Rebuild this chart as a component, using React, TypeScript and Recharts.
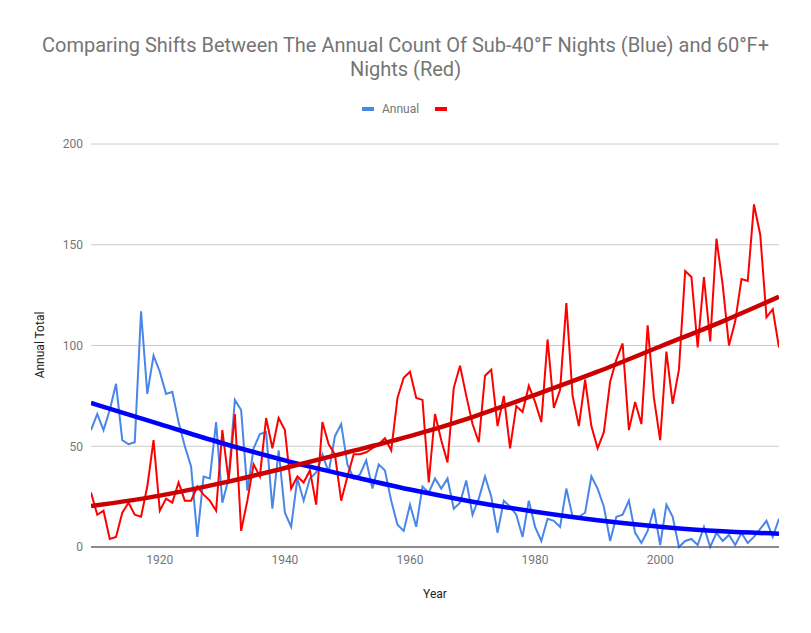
import React from 'react';
import { CartesianGrid, ComposedChart, Line, XAxis, YAxis } from 'recharts';

// annual counts, one value per year starting at FIRST_YEAR
const FIRST_YEAR = 1909;

const sub40Nights = [
  58, 66, 58, 68, 81, 53, 51, 52, 117, 76, // 1909-1918
  95, 87, 76, 77, 62, 50, 40, 5, 35, 34, // 1919-1928
  62, 22, 34, 73, 68, 28, 49, 56, 57, 19, // 1929-1938
  48, 17, 10, 34, 23, 34, 37, 46, 37, 55, // 1939-1948
  61, 41, 34, 36, 43, 29, 41, 38, 23, 11, // 1949-1958
  8, 21, 10, 30, 27, 34, 29, 34, 19, 22, // 1959-1968
  33, 16, 24, 35, 25, 7, 23, 20, 16, 5, // 1969-1978
  23, 10, 3, 14, 13, 10, 29, 15, 15, 17, // 1979-1988
  35, 29, 20, 3, 15, 16, 23, 7, 2, 8, // 1989-1998
  19, 1, 21, 15, 0, 3, 4, 1, 10, 0, // 1999-2008
  7, 3, 6, 1, 7, 2, 5, 9, 13, 5, // 2009-2018
  14, // 2019
];

const over60Nights = [
  27, 16, 18, 4, 5, 17, 22, 16, 15, 30, // 1909-1918
  53, 18, 24, 22, 32, 23, 23, 30, 26, 23, // 1919-1928
  18, 58, 33, 66, 8, 23, 41, 35, 64, 49, // 1929-1938
  64, 58, 29, 35, 32, 38, 21, 62, 51, 46, // 1939-1948
  23, 35, 46, 46, 47, 49, 51, 54, 48, 74, // 1949-1958
  84, 87, 74, 73, 32, 66, 53, 42, 79, 90, // 1959-1968
  75, 61, 52, 85, 88, 60, 75, 49, 70, 67, // 1969-1978
  80, 72, 62, 103, 69, 78, 121, 75, 60, 83, // 1979-1988
  60, 49, 57, 82, 93, 101, 58, 72, 61, 110, // 1989-1998
  74, 53, 97, 71, 88, 137, 134, 99, 134, 102, // 1999-2008
  153, 130, 100, 112, 133, 132, 170, 155, 114, 118, // 2009-2018
  99, // 2019
];

// trendline values
const trendYears = [1909, 1920, 1930, 1940, 1950, 1960, 1970, 1980, 1990, 2000, 2010, 2019];
const sub40Trend = [71.5, 61, 51.5, 43, 35.5, 28.5, 22.5, 17.5, 13.3, 10.1, 7.8, 6.6];
const over60Trend = [20.3, 25.5, 31.8, 39.2, 47, 55, 64.5, 75.5, 87, 99.5, 112, 124.2];

const xTicks = [1920, 1940, 1960, 1980, 2000];
const yTicks = [0, 50, 100, 150, 200];

const data = sub40Nights.map((v, i) => ({
  year: FIRST_YEAR + i,
  annual: v,
  warm: over60Nights[i],
}));

const trendData = trendYears.map((y, i) => ({
  year: y,
  coldTrend: sub40Trend[i],
  warmTrend: over60Trend[i],
}));

const gray = '#757575';

export default function App() {
  return (
    <div
      style={{
        position: 'absolute',
        left: 0,
        top: 0,
        width: 811,
        height: 633,
        background: '#fff',
        fontFamily: 'Roboto, sans-serif',
      }}
    >
      <div
        style={{
          position: 'absolute',
          left: 0,
          top: 33,
          width: 811,
          textAlign: 'center',
          fontSize: 20,
          lineHeight: '24px',
          color: gray,
        }}
      >
        Comparing Shifts Between The Annual Count Of Sub-40°F Nights (Blue) and 60°F+
        <br />
        Nights (Red)
      </div>

      <div
        style={{
          position: 'absolute',
          left: 362,
          top: 100,
          height: 17,
          display: 'flex',
          alignItems: 'center',
          fontSize: 12,
          color: gray,
        }}
      >
        <span style={{ display: 'inline-block', width: 12, height: 4, background: '#4a86e8', marginRight: 8 }} />
        <span>Annual</span>
        <span style={{ display: 'inline-block', width: 12, height: 4, background: '#ff0000', marginLeft: 16 }} />
      </div>

      <ComposedChart width={811} height={633} data={data} margin={{ top: 144, right: 32, bottom: 0, left: 0 }}>
        <CartesianGrid vertical={false} stroke="#cccccc" />
        <XAxis
          dataKey="year"
          type="number"
          domain={[1909, 2019]}
          ticks={xTicks}
          height={86}
          tickLine={false}
          axisLine={{ stroke: '#333333' }}
          tick={{ fill: gray, fontSize: 12 }}
          allowDataOverflow
        />
        <YAxis
          domain={[0, 200]}
          ticks={yTicks}
          width={91}
          tickLine={false}
          axisLine={false}
          tick={{ fill: gray, fontSize: 12 }}
        />
        <Line dataKey="annual" stroke="#4a86e8" strokeWidth={2} dot={false} activeDot={false} isAnimationActive={false} />
        <Line dataKey="warm" stroke="#ff0000" strokeWidth={2} dot={false} activeDot={false} isAnimationActive={false} />
        <Line
          data={trendData}
          dataKey="coldTrend"
          type="monotone"
          stroke="#0000ff"
          strokeWidth={4.5}
          dot={false}
          activeDot={false}
          isAnimationActive={false}
        />
        <Line
          data={trendData}
          dataKey="warmTrend"
          type="monotone"
          stroke="#cc0000"
          strokeWidth={4.5}
          dot={false}
          activeDot={false}
          isAnimationActive={false}
        />
      </ComposedChart>

      <div
        style={{
          position: 'absolute',
          left: 40,
          top: 345,
          transform: 'translate(-50%, -50%) rotate(-90deg)',
          fontSize: 12,
          color: '#222',
          whiteSpace: 'nowrap',
        }}
      >
        Annual Total
      </div>
      <div
        style={{
          position: 'absolute',
          left: 435,
          top: 594,
          transform: 'translate(-50%, -50%)',
          fontSize: 12,
          color: '#222',
        }}
      >
        Year
      </div>
    </div>
  );
}
